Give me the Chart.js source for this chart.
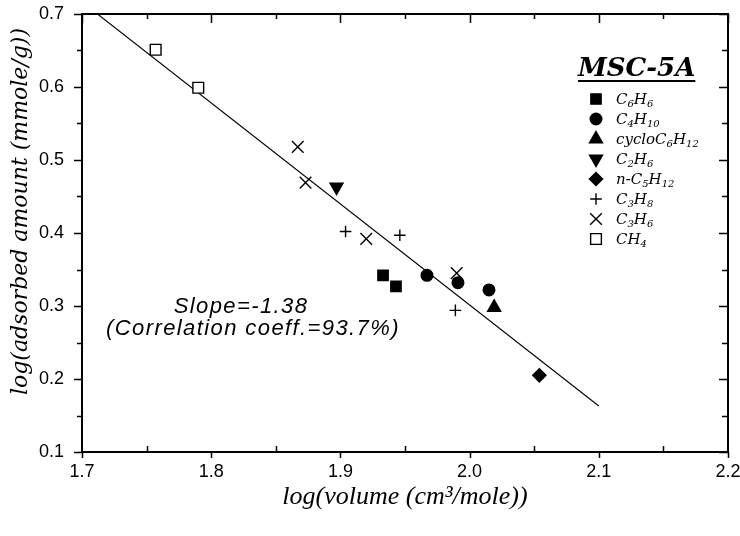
<!DOCTYPE html>
<html>
<head>
<meta charset="utf-8">
<script src="https://cdn.jsdelivr.net/npm/chart.js@4/dist/chart.umd.min.js"></script>
<style>
  html, body { margin: 0; padding: 0; background: #fff; }
  #wrap { width: 740px; height: 536px; }
</style>
</head>
<body>
<div id="wrap"><canvas id="c" width="740" height="536"></canvas></div>
<script>
// ---- data ----
const seriesNames = ['C6H6', 'C4H10', 'cycloC6H12', 'C2H6', 'n-C5H12', 'C3H8', 'C3H6', 'CH4'];
const c6h6X = [1.933, 1.943];            const c6h6Y = [0.342, 0.327];
const c4h10X = [1.967, 1.991, 2.015];    const c4h10Y = [0.342, 0.332, 0.322];
const cycloX = [2.019];                  const cycloY = [0.298];
const c2h6X = [1.897];                   const c2h6Y = [0.463];
const nc5X = [2.054];                    const nc5Y = [0.205];
const c3h8X = [1.904, 1.946, 1.989];     const c3h8Y = [0.402, 0.397, 0.294];
const c3h6X = [1.867, 1.873, 1.920, 1.990]; const c3h6Y = [0.518, 0.469, 0.392, 0.345];
const ch4X = [1.757, 1.790];             const ch4Y = [0.651, 0.599];
const fitX = [1.712, 2.100];             const fitY = [0.700, 0.163];
const xTickLabels = ['1.7', '1.8', '1.9', '2.0', '2.1', '2.2'];
const yTickLabels = ['0.1', '0.2', '0.3', '0.4', '0.5', '0.6', '0.7'];
const legendTitle = 'MSC-5A';
const noteLines = ['Slope=-1.38', '(Correlation coeff.=93.7%)'];

const pts = (xs, ys) => xs.map((x, i) => ({ x: x, y: ys[i] }));

const styles = [
  { pointStyle: 'rect',      radius: 7.3, fill: '#000', rot: 0 },
  { pointStyle: 'circle',    radius: 5.8, fill: '#000', rot: 0 },
  { pointStyle: 'triangle',  radius: 7.5, fill: '#000', rot: 0 },
  { pointStyle: 'triangle',  radius: 7.5, fill: '#000', rot: 180 },
  { pointStyle: 'rectRot',   radius: 6.6, fill: '#000', rot: 0 },
  { pointStyle: 'cross',     radius: 5.8, fill: '#000', rot: 0 },
  { pointStyle: 'crossRot',  radius: 8.2, fill: '#000', rot: 0 },
  { pointStyle: 'rect',      radius: 7.6, fill: '#fff', rot: 0 }
];
const seriesData = [
  pts(c6h6X, c6h6Y), pts(c4h10X, c4h10Y), pts(cycloX, cycloY), pts(c2h6X, c2h6Y),
  pts(nc5X, nc5Y), pts(c3h8X, c3h8Y), pts(c3h6X, c3h6Y), pts(ch4X, ch4Y)
];

const datasets = seriesNames.map((name, i) => ({
  label: name,
  data: seriesData[i],
  showLine: false,
  pointStyle: styles[i].pointStyle,
  pointRadius: styles[i].radius,
  pointHoverRadius: styles[i].radius,
  pointRotation: styles[i].rot,
  pointBackgroundColor: styles[i].fill,
  pointBorderColor: '#000',
  pointBorderWidth: 1.4,
  order: 1
}));
datasets.push({
  label: 'fit',
  data: pts(fitX, fitY),
  showLine: true,
  borderColor: '#000',
  borderWidth: 1.1,
  pointRadius: 0,
  fill: false,
  order: 2
});

const nearest = (labels, v) => {
  let best = labels[0], d = Infinity;
  labels.forEach(l => { const dd = Math.abs(parseFloat(l) - v); if (dd < d) { d = dd; best = l; } });
  return d < 1e-6 ? best : '';
};

// frame, ticks, legend and note
const decor = {
  id: 'decor',
  afterDraw(chart) {
    const ctx = chart.ctx;
    const a = chart.chartArea;
    const xs = chart.scales.x, ys = chart.scales.y;
    ctx.save();
    ctx.strokeStyle = '#000';
    ctx.lineWidth = 2;
    ctx.strokeRect(a.left, a.top, a.right - a.left, a.bottom - a.top);
    ctx.lineWidth = 1.5;
    ctx.beginPath();
    for (let k = 0; k <= 10; k++) {
      const v = 1.7 + k * 0.05;
      const px = Math.round(xs.getPixelForValue(v)) + 0.5;
      const major = k % 2 === 0;
      if (major) {
        ctx.moveTo(px, a.bottom); ctx.lineTo(px, a.bottom + 6);
        ctx.moveTo(px, a.top); ctx.lineTo(px, a.top + 9);
      } else {
        ctx.moveTo(px, a.bottom); ctx.lineTo(px, a.bottom - 6);
        ctx.moveTo(px, a.top); ctx.lineTo(px, a.top + 5);
      }
    }
    for (let k = 0; k <= 12; k++) {
      const v = 0.1 + k * 0.05;
      const py = Math.round(ys.getPixelForValue(v)) + 0.5;
      const major = k % 2 === 0;
      ctx.moveTo(a.left, py); ctx.lineTo(a.left - (major ? 8 : 5), py);
      ctx.moveTo(a.right, py); ctx.lineTo(a.right - (major ? 9 : 6), py);
    }
    ctx.stroke();

    // note text
    ctx.fillStyle = '#000';
    ctx.font = 'italic 22px "Liberation Sans", Arial, sans-serif';
    ctx.textAlign = 'center';
    ctx.textBaseline = 'middle';
    try { ctx.letterSpacing = '1.4px'; } catch (e) {}
    ctx.fillText(noteLines[0], 241, 307);
    ctx.fillText(noteLines[1], 253, 329);
    try { ctx.letterSpacing = '0px'; } catch (e) {}

    // legend title
    ctx.font = 'italic bold 26px "DejaVu Serif", serif';
    ctx.textAlign = 'left';
    ctx.textBaseline = 'alphabetic';
    const tx = 578, ty = 76;
    ctx.fillText(legendTitle, tx, ty);
    const tw = ctx.measureText(legendTitle).width;
    ctx.lineWidth = 2.2;
    ctx.beginPath();
    ctx.moveTo(tx, ty + 5); ctx.lineTo(tx + tw, ty + 5);
    ctx.stroke();

    // legend entries
    const rowY0 = 99, rowStep = 20, mx = 596, lx = 616;
    seriesNames.forEach((name, i) => {
      const y = rowY0 + i * rowStep;
      const ds = chart.data.datasets[i];
      ctx.fillStyle = ds.pointBackgroundColor;
      ctx.strokeStyle = '#000';
      ctx.lineWidth = 1.4;
      Chart.helpers.drawPoint(ctx, {
        pointStyle: ds.pointStyle,
        radius: ds.pointRadius,
        rotation: ds.pointRotation,
        borderWidth: 1.4
      }, mx, y);
      ctx.fillStyle = '#000';
      let x = lx;
      const parts = name.match(/(\d+|\D+)/g);
      parts.forEach(p => {
        const sub = /^\d+$/.test(p);
        ctx.font = sub ? 'italic 10px "DejaVu Serif", serif' : 'italic 15px "DejaVu Serif", serif';
        ctx.fillText(p, x, y + (sub ? 8 : 5));
        x += ctx.measureText(p).width;
      });
    });
    ctx.restore();
  }
};

new Chart(document.getElementById('c'), {
  type: 'scatter',
  data: { datasets: datasets },
  options: {
    responsive: false,
    animation: false,
    devicePixelRatio: 1,
    layout: { padding: { top: 14, right: 12, left: 0, bottom: 0 } },
    plugins: { legend: { display: false }, tooltip: { enabled: false } },
    scales: {
      x: {
        type: 'linear', min: 1.7, max: 2.2,
        afterFit: s => { s.height = 84; s.paddingLeft = 0; s.paddingRight = 0; },
        grid: { display: false, tickLength: 0 },
        border: { display: false },
        ticks: {
          stepSize: 0.1, padding: 9, color: '#000', autoSkip: false, maxRotation: 0,
          font: { family: '"Liberation Sans", Arial, sans-serif', size: 18 },
          callback: v => nearest(xTickLabels, v)
        },
        title: {
          display: true, text: 'log(volume (cm³/mole))', color: '#000',
          font: { family: '"Liberation Serif", "Times New Roman", serif', size: 26, style: 'italic' },
          padding: { top: 0, bottom: 23 }
        }
      },
      y: {
        type: 'linear', min: 0.1, max: 0.7,
        afterFit: s => { s.width = 82; s.paddingTop = 0; s.paddingBottom = 0; },
        grid: { display: false, tickLength: 0 },
        border: { display: false },
        ticks: {
          stepSize: 0.1, padding: 18, color: '#000', autoSkip: false,
          font: { family: '"Liberation Sans", Arial, sans-serif', size: 18 },
          callback: v => nearest(yTickLabels, v)
        },
        title: {
          display: true, text: 'log(adsorbed amount (mmole/g))\u00a0\u00a0', color: '#000',
          align: 'end',
          font: { family: '"DejaVu Serif", serif', size: 22, style: 'italic' },
          padding: { top: 8, bottom: 0 }
        }
      }
    }
  },
  plugins: [decor]
});
</script>
</body>
</html>
